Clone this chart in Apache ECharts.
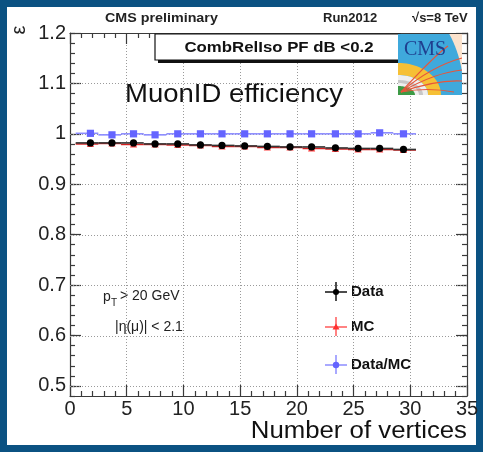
<!DOCTYPE html>
<html><head><meta charset="utf-8">
<script src="https://cdn.jsdelivr.net/npm/echarts@6/dist/echarts.min.js"></script>
<style>
html,body{margin:0;padding:0;background:#0b5282;overflow:hidden;}
#bg{position:absolute;left:7px;top:7px;width:469px;height:438px;background:#fff;}
#chart{position:absolute;left:0;top:0;width:483px;height:452px;}
</style></head><body><div id="bg"></div><div id="chart"></div>
<script>
// ---- data ----
const vertices = [1.8, 3.7, 5.6, 7.5, 9.5, 11.5, 13.4, 15.4, 17.4, 19.4, 21.3, 23.4, 25.4, 27.3, 29.4];
const binLow  = [0.5, 2.5, 4.5, 6.5, 8.5, 10.5, 12.5, 14.5, 16.5, 18.5, 20.5, 22.5, 24.5, 26.5, 28.5];
const binHigh = [2.5, 4.5, 6.5, 8.5, 10.5, 12.5, 14.5, 16.5, 18.5, 20.5, 22.5, 24.5, 26.5, 28.5, 30.5];
const dataEff = [0.982, 0.982, 0.982, 0.980, 0.980, 0.978, 0.977, 0.976, 0.975, 0.974, 0.974, 0.972, 0.971, 0.971, 0.969];
const mcEff   = [0.980, 0.981, 0.979, 0.979, 0.978, 0.977, 0.975, 0.975, 0.973, 0.973, 0.971, 0.970, 0.969, 0.969, 0.968];
const ratio   = [1.001, 0.998, 1.000, 0.998, 1.000, 1.000, 1.000, 1.000, 1.000, 1.000, 1.000, 1.000, 1.000, 1.002, 1.000];
const yMajorTicks = [0.5, 0.6, 0.7, 0.8, 0.9, 1.0, 1.1, 1.2];
const yGridValues = [0.5, 0.6, 0.7, 0.8, 0.9, 1.0, 1.1];
const seriesNames = ['Data', 'MC', 'Data/MC'];

const FONT = '"Liberation Sans", Arial, sans-serif';
const chart = echarts.init(document.getElementById('chart'), null, {renderer: 'canvas'});

function pack(vals) { return vertices.map((x, i) => [x, vals[i], binLow[i], binHigh[i]]); }

function makeRender(shape, markColor, lineColor) {
  return function (params, api) {
    const y = api.value(1);
    const p = api.coord([api.value(0), y]);
    const a = api.coord([api.value(2), y]);
    const b = api.coord([api.value(3), y]);
    const ch = [{type: 'line', shape: {x1: a[0], y1: a[1], x2: b[0], y2: b[1]}, style: {stroke: lineColor, lineWidth: 1.6}}];
    const r = 3.6;
    if (shape === 'circle') ch.push({type: 'circle', shape: {cx: p[0], cy: p[1], r: r}, style: {fill: markColor}});
    else if (shape === 'triangle') ch.push({type: 'polygon', shape: {points: [[p[0], p[1] - r - 0.5], [p[0] - r, p[1] + r - 0.5], [p[0] + r, p[1] + r - 0.5]]}, style: {fill: markColor}});
    else ch.push({type: 'rect', shape: {x: p[0] - r, y: p[1] - r, width: 2 * r, height: 2 * r}, style: {fill: markColor}});
    return {type: 'group', children: ch};
  };
}
// horizontal dotted grid lines, positioned through the axis scale
function gridRender(params, api) {
  const v = api.value(0);
  const a = api.coord([0, v]);
  const b = api.coord([35, v]);
  return {type: 'line', shape: {x1: a[0], y1: Math.round(a[1]) + 0.5, x2: b[0], y2: Math.round(b[1]) + 0.5},
          style: {stroke: '#9a9a9a', lineWidth: 1, lineDash: [1, 2]}};
}

const axisLineStyle = {color: '#3a3a3a', width: 1.2};
const gridStyle = {color: '#9a9a9a', type: [1, 2], width: 1};
function yAxisDef(pos, major, labels) {
  const ax = {
    type: 'value', min: 0.48, max: 1.2, position: pos,
    axisLine: {show: major, lineStyle: axisLineStyle},
    splitLine: {show: false},
    axisLabel: {show: false}
  };
  if (major) {
    ax.axisTick = {inside: true, length: 11, customValues: yMajorTicks, lineStyle: axisLineStyle};
    ax.axisLabel = labels ? {show: true, customValues: yMajorTicks, fontFamily: FONT, fontSize: 20, color: '#222', margin: 4} : {show: false};
  } else {
    ax.interval = 0.02;
    ax.axisTick = {inside: true, length: 5, lineStyle: axisLineStyle};
  }
  return ax;
}
function xAxisDef(pos, labels) {
  return {
    type: 'value', min: 0, max: 35, interval: 5, position: pos,
    axisLine: {show: true, lineStyle: axisLineStyle},
    axisTick: {inside: true, length: 11, lineStyle: axisLineStyle},
    minorTick: {show: true, splitNumber: 5, length: 5, lineStyle: axisLineStyle},
    splitLine: {show: labels, lineStyle: gridStyle},
    axisLabel: labels ? {show: true, fontFamily: FONT, fontSize: 20, color: '#222', margin: 3} : {show: false}
  };
}

// logo geometry helpers (decoration only)
const LH = 61, LW = 64;
function ellArc(rx, ry, n) {
  const pts = [];
  for (let k = 0; k <= n; k++) {
    const t = Math.PI / 2 * (1 - k / n);
    let x = rx * Math.cos(t), y = LH - ry * Math.sin(t);
    pts.push([Math.min(x, LW), Math.max(y, 0)]);
  }
  return pts;
}
function ring(rxo, ryo, rxi, ryi) {
  const outer = ellArc(rxo, ryo, 24);
  const inner = rxi > 0 ? ellArc(rxi, ryi, 24).reverse() : [[0, LH]];
  return outer.concat(inner);
}
const blueShape = [[0, 0]].concat(ellArc(66, 97, 30)).concat([[LW, LH], [0, LH]]);
const tracks = [
  [3, 58, 20, 40, 36, 22, 50, 12],
  [3, 58, 22, 42, 42, 30, 64, 24],
  [3, 58, 24, 46, 44, 38, 64, 36],
  [3, 58, 26, 50, 46, 46, 64, 47],
  [3, 58, 24, 54, 40, 55, 56, 58]
];
const LX = 398, LY = 34, LZ = 30;
function L(el) { el.z = LZ; el.x = LX; el.y = LY; return el; }

const option = {
  animation: false,
  grid: {left: 70, right: 16, top: 33, bottom: 56, containLabel: false},
  xAxis: [xAxisDef('bottom', true), xAxisDef('top', false)],
  yAxis: [yAxisDef('left', true, true), yAxisDef('left', false, false), yAxisDef('right', true, false), yAxisDef('right', false, false)],
  series: [
    {type: 'custom', z: 1, silent: true, renderItem: gridRender, data: yGridValues.map(v => [v]), encode: {y: 0}},
    {name: seriesNames[1], type: 'custom', z: 3, renderItem: makeRender('triangle', '#ff4040', '#d42020'), data: pack(mcEff), encode: {x: 0, y: 1}},
    {name: seriesNames[0], type: 'custom', z: 4, renderItem: makeRender('circle', '#000', '#333'), data: pack(dataEff), encode: {x: 0, y: 1}},
    {name: seriesNames[2], type: 'custom', z: 5, renderItem: makeRender('square', '#6464ff', '#8c8cff'), data: pack(ratio), encode: {x: 0, y: 1}}
  ],
  graphic: [
    {type: 'text', x: 105, y: 18, scaleX: 1.1, style: {text: 'CMS preliminary', font: 'bold 13px ' + FONT, fill: '#222', verticalAlign: 'middle'}},
    {type: 'text', x: 323, y: 18, style: {text: 'Run2012', font: 'bold 13px ' + FONT, fill: '#222', verticalAlign: 'middle'}},
    {type: 'text', x: 412, y: 18, style: {text: '√s=8 TeV', font: 'bold 13px ' + FONT, fill: '#222', verticalAlign: 'middle'}},
    {type: 'text', x: 19, y: 30, rotation: Math.PI / 2, style: {text: 'ε', font: '20px ' + FONT, fill: '#222', align: 'center', verticalAlign: 'middle'}},
    // label box with shadow
    {type: 'rect', z: 20, shape: {x: 158, y: 37, width: 242, height: 26}, style: {fill: '#111'}},
    {type: 'rect', z: 21, shape: {x: 155, y: 34, width: 245, height: 26}, style: {fill: '#fff', stroke: '#111', lineWidth: 1.2}},
    {type: 'text', z: 22, x: 279, y: 48, scaleX: 1.12, style: {text: 'CombRelIso PF dB <0.2', font: 'bold 15px ' + FONT, fill: '#111', align: 'center', verticalAlign: 'middle'}},
    // CMS logo
    L({type: 'rect', shape: {x: 0, y: 0, width: LW, height: LH}, style: {fill: '#fbe2cc'}}),
    L({type: 'polygon', shape: {points: blueShape}, style: {fill: '#3fa9dc'}}),
    L({type: 'polygon', shape: {points: ring(43, 32, 30, 20)}, style: {fill: '#f6c035'}}),
    L({type: 'polygon', shape: {points: ring(30, 20, 0, 0)}, style: {fill: '#efefef'}}),
    L({type: 'polygon', shape: {points: ring(25, 15, 21, 12)}, style: {fill: '#c8c8c8'}}),
    L({type: 'polygon', shape: {points: ring(17, 9, 0, 0)}, style: {fill: '#3d9a45'}}),
    ...tracks.map(t => L({type: 'bezierCurve', shape: {x1: t[0], y1: t[1], cpx1: t[2], cpy1: t[3], cpx2: t[4], cpy2: t[5], x2: t[6], y2: t[7]}, style: {stroke: '#e8553a', lineWidth: 1.2, fill: null}})),
    {type: 'text', z: LZ + 1, x: LX + 6, y: LY + 6, style: {text: 'CMS', font: '20px "Liberation Serif", "DejaVu Serif", serif', fill: '#1f3f8f'}},
    {type: 'text', x: 125, y: 95, scaleX: 1.1, style: {text: 'MuonID efficiency', font: '25px ' + FONT, fill: '#111', verticalAlign: 'middle'}},
    // cuts
    {type: 'text', x: 103, y: 297, style: {text: 'p', font: '14px ' + FONT, fill: '#222', verticalAlign: 'middle'}},
    {type: 'text', x: 111, y: 303, style: {text: 'T', font: '10px ' + FONT, fill: '#222', verticalAlign: 'middle'}},
    {type: 'text', x: 120, y: 296, style: {text: '> 20 GeV', font: '14px ' + FONT, fill: '#222', verticalAlign: 'middle'}},
    {type: 'text', x: 115, y: 327, style: {text: '|η(μ)| < 2.1', font: '14px ' + FONT, fill: '#222', verticalAlign: 'middle'}},
    // legend
    {type: 'line', shape: {x1: 325, y1: 292, x2: 347, y2: 292}, style: {stroke: '#111', lineWidth: 1.5}},
    {type: 'line', shape: {x1: 336, y1: 282, x2: 336, y2: 301}, style: {stroke: '#111', lineWidth: 1.5}},
    {type: 'circle', shape: {cx: 336, cy: 292, r: 3}, style: {fill: '#000'}},
    {type: 'text', x: 351, y: 292, style: {text: seriesNames[0], font: 'bold 15px ' + FONT, fill: '#111', verticalAlign: 'middle'}},
    {type: 'line', shape: {x1: 325, y1: 327, x2: 347, y2: 327}, style: {stroke: '#ff5a5a', lineWidth: 1.5}},
    {type: 'line', shape: {x1: 336, y1: 317, x2: 336, y2: 336}, style: {stroke: '#ff5a5a', lineWidth: 1.5}},
    {type: 'polygon', shape: {points: [[336, 323.5], [332.5, 329.5], [339.5, 329.5]]}, style: {fill: '#ff3030'}},
    {type: 'text', x: 351, y: 327, style: {text: seriesNames[1], font: 'bold 15px ' + FONT, fill: '#111', verticalAlign: 'middle'}},
    {type: 'line', shape: {x1: 325, y1: 365, x2: 347, y2: 365}, style: {stroke: '#8c8cff', lineWidth: 1.5}},
    {type: 'line', shape: {x1: 336, y1: 355, x2: 336, y2: 374}, style: {stroke: '#8c8cff', lineWidth: 1.5}},
    {type: 'circle', shape: {cx: 336, cy: 365, r: 3.2}, style: {fill: '#6464ff'}},
    {type: 'text', x: 351, y: 365, style: {text: seriesNames[2], font: 'bold 15px ' + FONT, fill: '#111', verticalAlign: 'middle'}},
    // axis title
    {type: 'text', x: 467, y: 432, scaleX: 1.12, style: {text: 'Number of vertices', font: '23px ' + FONT, fill: '#111', align: 'right', verticalAlign: 'middle'}}
  ]
};
chart.setOption(option);
</script>
</body></html>
